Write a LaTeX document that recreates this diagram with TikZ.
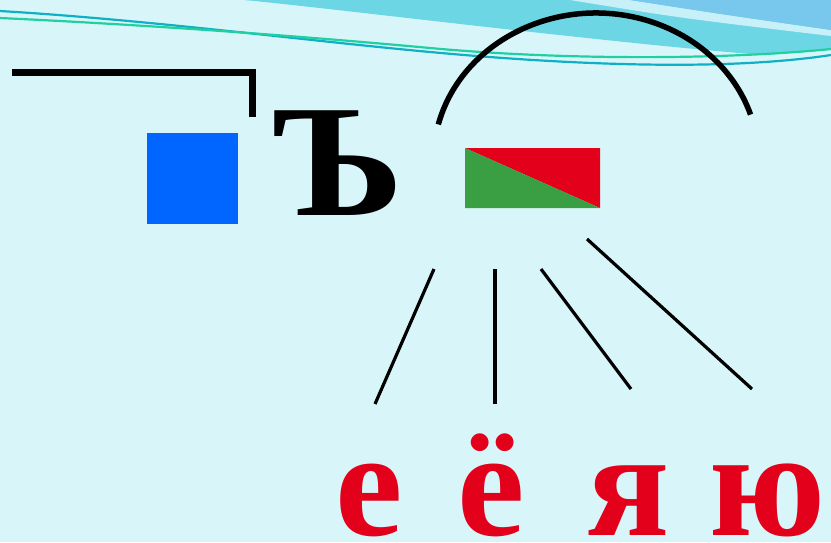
\documentclass[tikz,border=0pt]{standalone}
\usepackage{fontspec}
\setmainfont{Liberation Serif}
\definecolor{bgc}{RGB}{216,246,250}
\definecolor{cyanband}{RGB}{108,214,228}
\definecolor{lightwedge}{RGB}{200,240,248}
\definecolor{blueband}{RGB}{120,200,238}
\definecolor{tealline}{RGB}{16,176,196}
\definecolor{greenline}{RGB}{32,208,160}
\definecolor{sqblue}{RGB}{0,102,255}
\definecolor{letred}{RGB}{227,0,27}
\definecolor{flaggreen}{RGB}{58,158,66}
\tikzset{
  conn/.style={line width=3.2pt, black},
  bigletter/.style={inner sep=0pt, anchor=base, font=\fontsize{160}{160}\selectfont\bfseries},
  redletter/.style={bigletter, text=letred, font=\fontsize{152}{152}\selectfont\bfseries},
}
\begin{document}
\begin{tikzpicture}[x=1pt,y=-1pt]
\fill[bgc] (0,0) rectangle (831,542);
\useasboundingbox (0,0) rectangle (831,542);
% top decoration
\fill[cyanband] (244,0) .. controls (330,8) and (600,42) .. (763,55) -- (831,50) -- (831,0) -- cycle;
\fill[lightwedge] (570,0) .. controls (680,18) .. (831,36) -- (831,30) .. controls (720,14) .. (630,0) -- cycle;
\fill[blueband] (630,0) .. controls (720,14) .. (831,30) -- (831,0) -- cycle;
\draw[tealline, line width=2.2pt] (0,11) .. controls (150,20) and (300,40) .. (430,52) .. controls (560,64) and (720,72) .. (831,55);
\draw[greenline, line width=2.2pt] (0,18) .. controls (150,25) and (300,36) .. (430,48) .. controls (560,60) and (720,60) .. (831,49);
% prefix mark
\coordinate (p1) at (12,72.5);
\coordinate (p2) at (252.5,72.5);
\coordinate (p3) at (252.5,117);
\draw[line width=7pt] (p1) -- (p2) -- (p3);
% blue square
\node[fill=sqblue, minimum width=91pt, minimum height=91pt, inner sep=0pt] (sq) at (192.5,178.5) {};
% hard sign
\node[bigletter, xscale=1.08] (hs) at (338,215) {Ъ};
% flag rectangle
\coordinate (fa) at (465,148);
\coordinate (fb) at (600,148);
\coordinate (fc) at (600,208);
\coordinate (fd) at (465,208);
\fill[letred] (fa) -- (fb) -- (fc) -- cycle;
\fill[flaggreen] (fa) -- (fc) -- (fd) -- cycle;
% arc
\draw[line width=5.5pt] (596,160) ++(194:162.5 and 147) arc[start angle=194, end angle=342, x radius=162.5, y radius=147];
% lines
\coordinate (a1) at (434,269); \coordinate (b1) at (375,404);
\coordinate (a2) at (495,269); \coordinate (b2) at (495,404);
\coordinate (a3) at (541,269); \coordinate (b3) at (631,389);
\coordinate (a4) at (587,239); \coordinate (b4) at (752,389);
\draw[conn] (a1) -- (b1);
\draw[conn] (a2) -- (b2);
\draw[conn] (a3) -- (b3);
\draw[conn] (a4) -- (b4);
% letters
\node[redletter] (l1) at (369.5,535) {е};
\node[redletter] (l2) at (491.5,535) {ё};
\node[redletter] (l3) at (629,535) {я};
\node[redletter] (l4) at (768,535) {ю};
\end{tikzpicture}
\end{document}
